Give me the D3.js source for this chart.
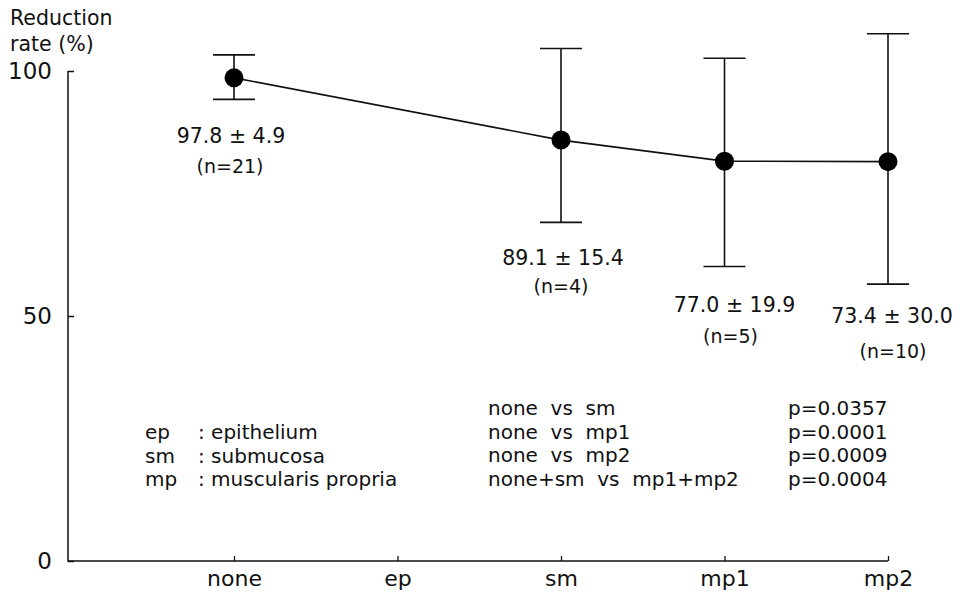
<!DOCTYPE html>
<html>
<head>
<meta charset="utf-8">
<script src="https://cdn.jsdelivr.net/npm/d3@7"></script>
<style>
  body { margin: 0; background: #fff; }
  svg { display: block; }
  text { font-family: "DejaVu Sans", "Noto Sans", sans-serif; fill: #111; }
</style>
</head>
<body>
<svg id="chart" width="978" height="593"></svg>
<script>
// ---- data ----
const categories = ["none", "ep", "sm", "mp1", "mp2"];
const groups = ["none", "sm", "mp1", "mp2"];
const means = [98.6, 85.9, 81.6, 81.5];          // plotted point positions
const upper = [103.3, 104.6, 102.6, 107.6];      // top of error bar
const lower = [94.2, 69.1, 60.1, 56.5];          // bottom of error bar
const valueLabels = ["97.8 \u00b1 4.9", "89.1 \u00b1 15.4", "77.0 \u00b1 19.9", "73.4 \u00b1 30.0"];
const nLabels = ["(n=21)", "(n=4)", "(n=5)", "(n=10)"];
const yTicks = [0, 50, 100];
const legendAbbr = ["ep", "sm", "mp"];
const legendText = [": epithelium", ": submucosa", ": muscularis propria"];
const comparisons = ["none  vs  sm", "none  vs  mp1", "none  vs  mp2", "none+sm  vs  mp1+mp2"];
const pValues = ["p=0.0357", "p=0.0001", "p=0.0009", "p=0.0004"];

// ---- layout ----
const FONT = "'DejaVu Sans', 'Noto Sans', sans-serif";
const svg = d3.select("#chart");
const x = d3.scalePoint().domain(categories).range([234, 888]);
const y = d3.scaleLinear().domain([0, 100]).range([561, 71]);
const axisX0 = 68;

// axes frame
svg.append("path")
  .attr("d", `M${axisX0},${y(100)}V${y(0)}H${x("mp2")}`)
  .attr("fill", "none").attr("stroke", "#111").attr("stroke-width", 1.5);

const gy = svg.append("g").attr("transform", `translate(${axisX0},0)`)
  .call(d3.axisLeft(y).tickValues(yTicks).tickSizeInner(-6).tickSizeOuter(0).tickPadding(16));
gy.select(".domain").remove();
gy.selectAll("line").attr("stroke", "#111").attr("stroke-width", 1.5);
gy.selectAll("text").attr("font-size", 23).style("font-family", FONT).attr("fill", "#111");

const gx = svg.append("g").attr("transform", `translate(0,${y(0)})`)
  .call(d3.axisBottom(x).tickSizeInner(-5).tickSizeOuter(0).tickPadding(9));
gx.select(".domain").remove();
gx.selectAll("line").attr("stroke", "#111").attr("stroke-width", 1.3);
gx.selectAll("text").attr("font-size", 22).style("font-family", FONT).attr("fill", "#111");

// axis title
const title = svg.append("text").attr("font-size", 20.5);
title.append("tspan").attr("x", 10).attr("y", 25).text("Reduction");
title.append("tspan").attr("x", 10).attr("y", 51).text("rate (%)");

// line
const pts = groups.map((g, i) => ({ g, m: means[i], hi: upper[i], lo: lower[i] }));
svg.append("path")
  .datum(pts)
  .attr("d", d3.line().x(d => x(d.g)).y(d => y(d.m)))
  .attr("fill", "none").attr("stroke", "#111").attr("stroke-width", 1.6);

// error bars
const eb = svg.append("g").attr("stroke", "#111").attr("stroke-width", 1.6);
eb.selectAll(".v").data(pts).join("line")
  .attr("x1", d => x(d.g)).attr("x2", d => x(d.g))
  .attr("y1", d => y(d.hi)).attr("y2", d => y(d.lo));
eb.selectAll(".capt").data(pts).join("line")
  .attr("x1", d => x(d.g) - 21).attr("x2", d => x(d.g) + 21)
  .attr("y1", d => y(d.hi)).attr("y2", d => y(d.hi));
eb.selectAll(".capb").data(pts).join("line")
  .attr("x1", d => x(d.g) - 21).attr("x2", d => x(d.g) + 21)
  .attr("y1", d => y(d.lo)).attr("y2", d => y(d.lo));

// points
svg.append("g").selectAll("circle").data(pts).join("circle")
  .attr("cx", d => x(d.g)).attr("cy", d => y(d.m)).attr("r", 9.5).attr("fill", "#000");

// value labels (offsets relative to each bar's lower cap)
const labelDx = [-3, 2, 10, 4];
const labelDy = [44, 43, 45, 39];
const nDx = [-4, 0, 6, 5];
const nDy = [30, 28, 31, 35];
svg.append("g").selectAll("text").data(pts).join("text")
  .attr("x", (d, i) => x(d.g) + labelDx[i]).attr("y", (d, i) => y(d.lo) + labelDy[i])
  .attr("text-anchor", "middle").attr("font-size", 20.5)
  .text((d, i) => valueLabels[i]);
svg.append("g").selectAll("text").data(pts).join("text")
  .attr("x", (d, i) => x(d.g) + nDx[i]).attr("y", (d, i) => y(d.lo) + labelDy[i] + nDy[i])
  .attr("text-anchor", "middle").attr("font-size", 19)
  .text((d, i) => nLabels[i]);

// legend
const lg = svg.append("g");
legendAbbr.forEach((a, i) => {
  lg.append("text").attr("x", 145).attr("y", 439 + i * 23.7).attr("font-size", 20).text(a);
  lg.append("text").attr("x", 198).attr("y", 439 + i * 23.7).attr("font-size", 20).text(legendText[i]);
});

// statistics
const st = svg.append("g");
comparisons.forEach((c, i) => {
  st.append("text").attr("x", 488).attr("y", 415 + i * 23.7).attr("font-size", 20)
    .style("white-space", "pre").text(c);
  st.append("text").attr("x", 788).attr("y", 415 + i * 23.7).attr("font-size", 20).text(pValues[i]);
});
</script>
</body>
</html>
